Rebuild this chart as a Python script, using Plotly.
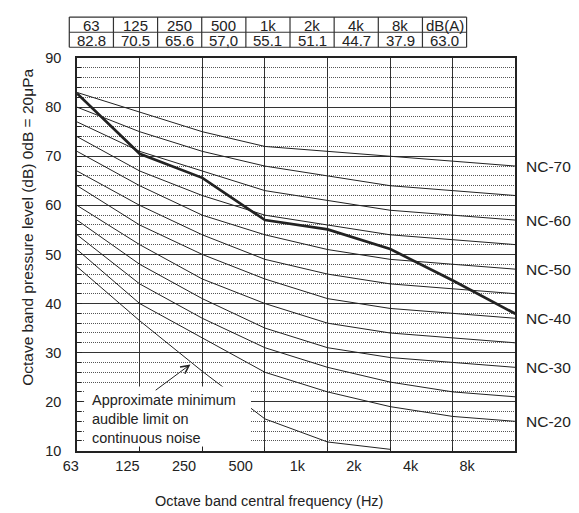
import plotly.graph_objects as go

W, H = 579, 513
# Observed placement of the figure in the photographed page:
# window_px = B + S * figure_px ; R values below are target window pixels.
S, B = 0.967, 16.3

# ---------------- data ----------------
freqs = ["63", "125", "250", "500", "1k", "2k", "4k", "8k"]

nc20 = [51, 40, 33, 26, 22, 19, 17, 16]
nc25 = [54, 44, 37, 31, 27, 24, 22, 21]
nc30 = [57, 48, 41, 35, 31, 29, 28, 27]
nc35 = [60, 52, 45, 40, 36, 34, 33, 32]
nc40 = [64, 56, 50, 45, 41, 39, 38, 37]
nc45 = [67, 60, 54, 49, 46, 44, 43, 42]
nc50 = [71, 64, 58, 54, 51, 49, 48, 47]
nc55 = [74, 67, 62, 58, 56, 54, 53, 52]
nc60 = [77, 71, 67, 63, 61, 59, 58, 57]
nc65 = [80, 75, 71, 68, 66, 64, 63, 62]
nc70 = [83, 79, 75, 72, 71, 70, 69, 68]
nc_names = ["NC-20", "NC-25", "NC-30", "NC-35", "NC-40", "NC-45",
            "NC-50", "NC-55", "NC-60", "NC-65", "NC-70"]
nc_curves = [nc20, nc25, nc30, nc35, nc40, nc45, nc50, nc55, nc60, nc65, nc70]
labelled = ["NC-70", "NC-60", "NC-50", "NC-40", "NC-30", "NC-20"]

threshold_freqs = ["63", "125", "250", "500", "1k", "2k"]
threshold = [47.5, 36.5, 26.2, 16.5, 11.8, 10.3]

measured = [82.8, 70.5, 65.6, 57.0, 55.1, 51.1, 44.7, 37.9]

table_head = ["63", "125", "250", "500", "1k", "2k", "4k", "8k", "dB(A)"]
table_vals = ["82.8", "70.5", "65.6", "57,0", "55.1", "51.1", "44.7", "37.9", "63.0"]

y_title = "Octave band pressure level (dB) 0dB = 20μPa"
x_title = "Octave band central frequency (Hz)"
note_text = "Approximate minimum<br>audible limit on<br>continuous noise"

# ---------------- geometry helpers (window pixels -> paper) ----------------
def fx(R):
    return ((R - B) / S) / W

def fy(R):
    return 1 - ((R - B) / S) / H

def pl(d):
    return d / S

PL, PR, PT, PB = 77, 513, 58.3, 450.3
FONT = "Liberation Sans, Arial, sans-serif"
INK = "#222"

fig = go.Figure()

for name, vals in zip(nc_names, nc_curves):
    fig.add_trace(go.Scatter(x=freqs, y=vals, mode="lines", name=name,
                             line=dict(color=INK, width=1),
                             showlegend=False, hoverinfo="skip"))

fig.add_trace(go.Scatter(x=threshold_freqs, y=threshold, mode="lines",
                         line=dict(color=INK, width=1),
                         showlegend=False, hoverinfo="skip"))

fig.add_trace(go.Scatter(x=freqs, y=measured, mode="lines",
                         line=dict(color=INK, width=2.7),
                         showlegend=False, hoverinfo="skip"))

# carrier trace for the tick-label axis
fig.add_trace(go.Scatter(x=freqs, y=[None] * len(freqs), xaxis="x2", yaxis="y2",
                         mode="lines", showlegend=False, hoverinfo="skip"))

annotations = []
for name, vals in zip(nc_names, nc_curves):
    if name in labelled:
        annotations.append(dict(x=len(freqs) - 1, y=vals[-1], xref="x", yref="y",
                                text=name, showarrow=False, xanchor="left",
                                yanchor="middle", xshift=pl(8),
                                font=dict(size=pl(15), color=INK, family=FONT)))

annotations.append(dict(x=fx(27), y=fy(227), xref="paper", yref="paper",
                        text=y_title, textangle=-90, showarrow=False,
                        xanchor="center", yanchor="middle",
                        font=dict(size=pl(15), color=INK, family=FONT)))
annotations.append(dict(x=fx(267.5), y=fy(500), xref="paper", yref="paper",
                        text=x_title, showarrow=False,
                        xanchor="center", yanchor="middle",
                        font=dict(size=pl(14), color=INK, family=FONT)))
annotations.append(dict(x=fx(90), y=fy(419), xref="paper", yref="paper",
                        text=note_text, showarrow=False, align="left",
                        xanchor="left", yanchor="middle",
                        font=dict(size=pl(14), color=INK, family=FONT)))
annotations.append(dict(x=1.81, y=27.6, xref="x", yref="y", text="",
                        showarrow=True, ax=-pl(35), ay=pl(26), arrowhead=5,
                        arrowsize=1.6, arrowwidth=1, arrowcolor=INK))

# top table
tx0, tcw = 69.3, 43.9
ty0, ty1, ty2 = 17.4, 32.5, 47.5
shapes = []
for i in range(len(table_head) + 1):
    X = tx0 + i * tcw
    shapes.append(dict(type="line", xref="paper", yref="paper",
                       x0=fx(X), x1=fx(X), y0=fy(ty0), y1=fy(ty2),
                       line=dict(color="#333", width=1.2)))
for Y in (ty0, ty1, ty2):
    shapes.append(dict(type="line", xref="paper", yref="paper",
                       x0=fx(tx0), x1=fx(tx0 + len(table_head) * tcw),
                       y0=fy(Y), y1=fy(Y), line=dict(color="#333", width=1.2)))
for i, (h, v) in enumerate(zip(table_head, table_vals)):
    cx = tx0 + (i + 0.5) * tcw
    annotations.append(dict(x=fx(cx), y=fy((ty0 + ty1) / 2 + 0.5), xref="paper", yref="paper",
                            text=h, showarrow=False, xanchor="center", yanchor="middle",
                            font=dict(size=pl(14.5), color=INK, family=FONT)))
    annotations.append(dict(x=fx(cx), y=fy((ty1 + ty2) / 2 + 0.5), xref="paper", yref="paper",
                            text=v, showarrow=False, xanchor="center", yanchor="middle",
                            font=dict(size=pl(14.5), color=INK, family=FONT)))

# white box behind the note
shapes.append(dict(type="rect", xref="paper", yref="paper", layer="above",
                   x0=fx(84), x1=fx(250), y0=fy(446), y1=fy(386),
                   fillcolor="white", line=dict(width=0)))

fig.update_layout(
    width=W, height=H,
    margin=dict(l=0, r=0, t=0, b=0),
    paper_bgcolor="white", plot_bgcolor="rgba(0,0,0,0)",
    font=dict(family=FONT, color=INK),
    showlegend=False,
    xaxis=dict(type="category", categoryorder="array", categoryarray=freqs,
               range=[0, len(freqs) - 1], domain=[fx(PL), fx(PR)], anchor="y",
               showgrid=True, gridcolor="#333", gridwidth=1,
               showline=True, mirror=True, linecolor=INK, linewidth=1.7,
               ticks="inside", ticklen=4, tickcolor=INK,
               showticklabels=False, zeroline=False),
    yaxis=dict(range=[10, 90], domain=[fy(PB), fy(PT)], anchor="x",
               tick0=10, dtick=10, showgrid=True, gridcolor="#333", gridwidth=1,
               showline=True, mirror=True, linecolor=INK, linewidth=1.7,
               ticks="inside", ticklen=5, tickcolor=INK,
               tickfont=dict(size=pl(14), color=INK, family=FONT),
               ticklabelstandoff=11, zeroline=False,
               minor=dict(tick0=10, dtick=2, showgrid=True, gridcolor="#555",
                          griddash="1px,1px", gridwidth=1, ticks="inside",
                          ticklen=4, tickcolor=INK)),
    xaxis2=dict(type="category", categoryorder="array", categoryarray=freqs,
                range=[0, len(freqs) - 1], domain=[fx(70.8), fx(465)], anchor="y2",
                showgrid=False, showline=False, zeroline=False, ticks="",
                ticklabelstandoff=5,
                tickfont=dict(size=pl(14), color=INK, family=FONT)),
    yaxis2=dict(range=[10, 90], domain=[fy(PB), fy(PT)], anchor="x2",
                visible=False, showgrid=False),
    annotations=annotations,
    shapes=shapes,
)

fig.write_html("out.html")
